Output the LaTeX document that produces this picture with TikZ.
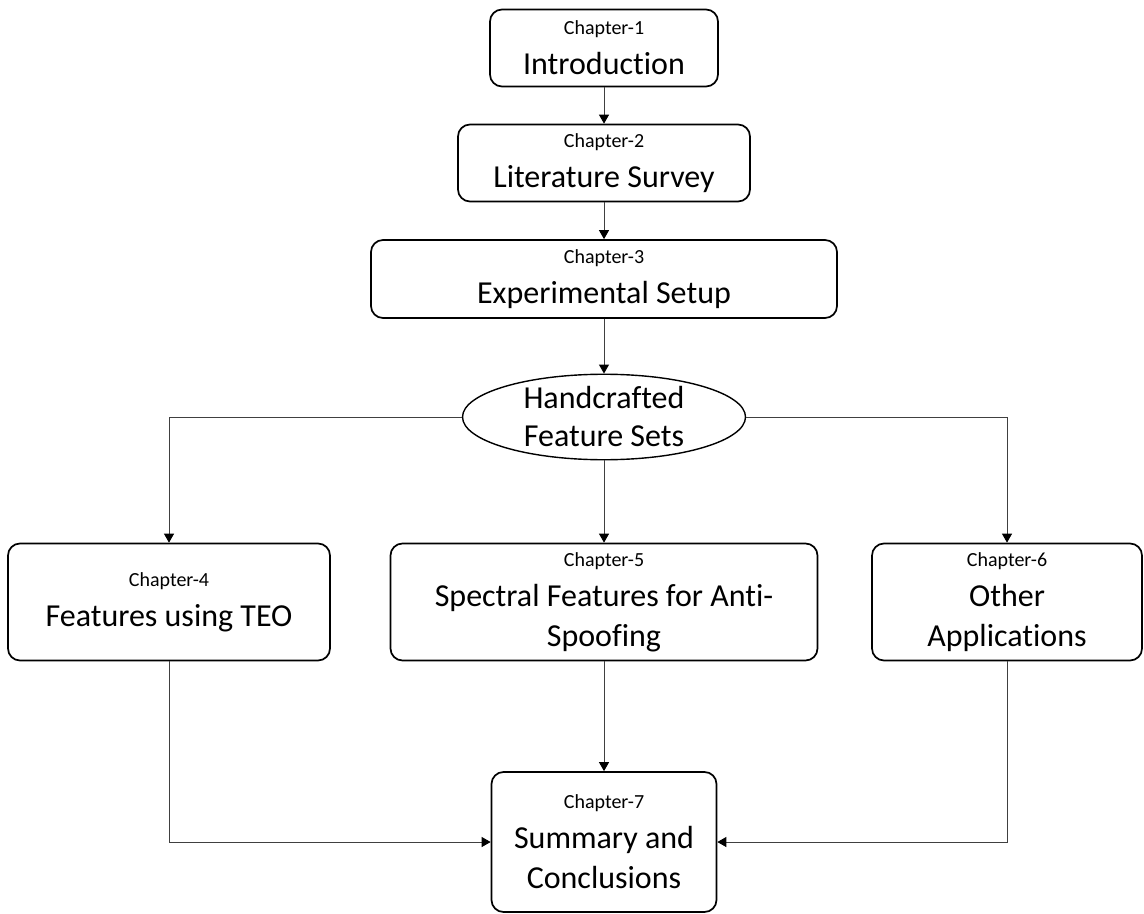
\documentclass[tikz,border=0pt]{standalone}
\usepackage{fontspec}
\setmainfont{Carlito}[Ligatures=NoCommon]
\usetikzlibrary{shapes.geometric, arrows.meta}

\tikzset{
  chapbox/.style={draw, line width=0.85pt, rounded corners=6pt, align=center,
    inner sep=0pt, font=\fontsize{16}{20}\selectfont},
  oval/.style={draw, ellipse, line width=0.7pt, align=center, inner sep=0pt,
    minimum width=141.5pt, minimum height=39pt, font=\fontsize{16}{19}\selectfont},
  link/.style={draw=black!75, line width=0.5pt, -{Triangle[width=5pt,length=4.5pt,black]}}
}
\newcommand{\chapno}[1]{{\fontsize{10}{20}\selectfont Chapter-#1}}

\begin{document}
\begin{tikzpicture}[x=0.5pt, y=-0.5pt]
\useasboundingbox (0,0) rectangle (1144,914);

\node[chapbox, minimum width=114pt, minimum height=38.5pt] (ch1) at (604,48) {\chapno{1}\\Introduction};
\node[chapbox, minimum width=146pt, minimum height=38.5pt] (ch2) at (604,163) {\chapno{2}\\Literature Survey};
\node[chapbox, minimum width=233pt, minimum height=39pt] (ch3) at (604,279) {\chapno{3}\\Experimental Setup};
\node[oval] (hand) at (604,417) {Handcrafted\\Feature Sets};

\node[chapbox, minimum width=161pt, minimum height=58.5pt] (ch4) at (169,602) {\chapno{4}\\Features using TEO};
\node[chapbox, minimum width=213.5pt, minimum height=58.5pt] (ch5) at (604,602) {\chapno{5}\\Spectral Features for Anti-\\Spoofing};
\node[chapbox, minimum width=135pt, minimum height=58.5pt] (ch6) at (1007,602) {\chapno{6}\\Other\\Applications};
\node[chapbox, minimum width=112.5pt, minimum height=70pt] (ch7) at (604,842) {\chapno{7}\\Summary and\\Conclusions};

% top chain
\draw[link] (ch1) -- (ch2);
\draw[link] (ch2) -- (ch3);
\draw[link] (ch3) -- (hand);

% branches
\draw[link] (hand.west) -| (ch4.north);
\draw[link] (hand.east) -| (ch6.north);
\draw[link] (hand.south) -- (ch5.north);

% merge
\draw[link] (ch5.south) -- (ch7.north);
\draw[link] (ch4.south) |- (ch7.west);
\draw[link] (ch6.south) |- (ch7.east);

\end{tikzpicture}
\end{document}
